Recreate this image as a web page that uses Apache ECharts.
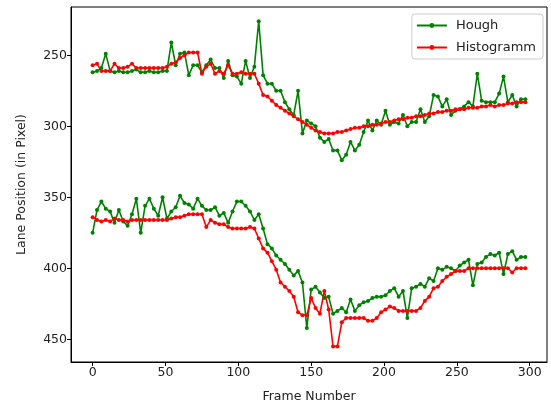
<!DOCTYPE html>
<html>
<head>
<meta charset="utf-8">
<script src="https://cdn.jsdelivr.net/npm/echarts@6/dist/echarts.min.js"></script>
<style>
  html, body { margin: 0; padding: 0; background: #fff; }
  #chart { width: 551px; height: 403px; }
</style>
</head>
<body>
<div id="chart"></div>
<script>
// frame numbers (every 3rd frame)
var frames = [0, 3, 6, 9, 12, 15, 18, 21, 24, 27, 30, 33, 36, 39, 42, 45, 48, 51, 54, 57,
    60, 63, 66, 69, 72, 75, 78, 81, 84, 87, 90, 93, 96, 99, 102, 105, 108, 111, 114, 117,
    120, 123, 126, 129, 132, 135, 138, 141, 144, 147, 150, 153, 156, 159, 162, 165, 168, 171, 174, 177,
    180, 183, 186, 189, 192, 195, 198, 201, 204, 207, 210, 213, 216, 219, 222, 225, 228, 231, 234, 237,
    240, 243, 246, 249, 252, 255, 258, 261, 264, 267, 270, 273, 276, 279, 282, 285, 288, 291, 294, 297];

var houghUpper = [262, 261, 259, 249, 261, 262, 261, 262, 262, 261,
    260, 262, 262, 261, 262, 262, 261, 261, 241, 257,
    249, 248, 264, 257, 257, 262, 257, 253, 259, 259,
    266, 254, 264, 265, 270, 254, 266, 258, 226, 264,
    270, 270, 275, 275, 283, 288, 292, 275, 305, 296,
    298, 300, 308, 311, 309, 317, 317, 324, 320, 311,
    317, 313, 304, 296, 303, 296, 299, 289, 299, 297,
    298, 292, 300, 297, 297, 288, 297, 293, 278, 279,
    286, 281, 292, 289, 288, 286, 283, 286, 263, 282,
    283, 283, 283, 277, 265, 283, 278, 286, 281, 281];

var houghLower = [375, 359, 353, 358, 360, 368, 359, 367, 370, 362,
    351, 375, 356, 351, 358, 363, 350, 365, 360, 357,
    349, 354, 355, 358, 351, 356, 359, 359, 357, 363,
    361, 368, 360, 353, 353, 356, 360, 366, 362, 372,
    383, 386, 391, 394, 397, 401, 405, 402, 410, 442,
    415, 413, 417, 421, 420, 432, 430, 428, 431, 422,
    430, 426, 424, 423, 421, 420, 420, 419, 416, 414,
    420, 416, 435, 414, 413, 411, 413, 407, 409, 400,
    401, 399, 400, 402, 398, 396, 394, 412, 397, 396,
    392, 390, 391, 389, 404, 390, 388, 394, 392, 392];

var histUpper = [257, 256, 261, 261, 261, 256, 259, 259, 258, 256,
    259, 259, 259, 259, 259, 259, 259, 258, 256, 255,
    252, 250, 248, 248, 248, 263, 258, 256, 263, 261,
    263, 257, 263, 263, 262, 263, 263, 263, 270, 278,
    279, 282, 285, 287, 289, 291, 293, 295, 297, 299,
    301, 303, 304, 305, 305, 305, 304, 304, 303, 302,
    301, 301, 300, 300, 299, 299, 298, 297, 297, 296,
    295, 295, 294, 294, 293, 293, 292, 291, 291, 290,
    290, 289, 289, 288, 288, 288, 287, 287, 287, 286,
    286, 285, 286, 285, 285, 284, 284, 283, 283, 283];

var histLower = [364, 366, 367, 366, 367, 365, 366, 366, 367, 366,
    366, 366, 366, 366, 366, 366, 366, 366, 365, 364,
    364, 363, 362, 362, 362, 362, 371, 366, 368, 369,
    369, 371, 372, 372, 372, 372, 371, 372, 379, 386,
    389, 395, 401, 410, 413, 416, 420, 431, 433, 433,
    421, 428, 432, 416, 429, 455, 455, 438, 435, 435,
    435, 435, 435, 437, 437, 435, 431, 429, 427, 428,
    430, 430, 430, 430, 430, 428, 423, 420, 414, 413,
    409, 406, 404, 402, 402, 402, 400, 400, 400, 400,
    400, 400, 400, 400, 400, 400, 403, 400, 400, 400];

var xTicks = [0, 50, 100, 150, 200, 250, 300];
var yTicks = [250, 300, 350, 400, 450];

function pairs(values) {
    return frames.map(function (f, i) { return [f, values[i]]; });
}

var font = 'DejaVu Sans';
var fontSize = 12.5;

function lineSeries(name, values, color) {
    return {
        name: name,
        type: 'line',
        data: pairs(values),
        symbol: 'circle',
        symbolSize: 4,
        color: color,
        lineStyle: { width: 1.6, color: color },
        itemStyle: { color: color },
        emphasis: { disabled: true }
    };
}

var chart = echarts.init(document.getElementById('chart'));
chart.setOption({
    animation: false,
    backgroundColor: '#fff',
    textStyle: { fontFamily: font },
    grid: {
        left: 71, right: 4, top: 7, bottom: 41,
        outerBoundsMode: 'none',
        show: true, borderColor: '#000', borderWidth: 1
    },
    legend: {
        data: ['Hough', 'Histogramm'],
        orient: 'vertical',
        align: 'left',
        right: 8,
        top: 14,
        itemWidth: 30,
        itemHeight: 6,
        itemGap: 9,
        padding: [5, 7, 5, 4],
        borderColor: '#ccc',
        borderWidth: 1,
        borderRadius: 3,
        backgroundColor: 'rgba(255,255,255,0.8)',
        textStyle: { fontFamily: font, fontSize: 13, color: '#222', padding: [0, 0, 0, 4] }
    },
    xAxis: {
        type: 'value',
        min: -14.85,
        max: 311.85,
        name: 'Frame Number',
        nameLocation: 'middle',
        nameGap: 28,
        nameTextStyle: { fontFamily: font, fontSize: fontSize, color: '#222' },
        axisLine: { onZero: false, lineStyle: { color: '#000', width: 1 } },
        axisTick: { customValues: xTicks, length: 4, lineStyle: { color: '#000' } },
        axisLabel: { customValues: xTicks, margin: 4, fontFamily: font, fontSize: fontSize, color: '#222' },
        splitLine: { show: false }
    },
    yAxis: {
        type: 'value',
        inverse: true,
        min: 216,
        max: 466,
        name: 'Lane Position (in Pixel)',
        nameLocation: 'middle',
        nameGap: 43,
        nameTextStyle: { fontFamily: font, fontSize: fontSize, color: '#222' },
        axisLine: { show: true, onZero: false, lineStyle: { color: '#000', width: 1 } },
        axisTick: { show: true, customValues: yTicks, length: 4, lineStyle: { color: '#000' } },
        axisLabel: { customValues: yTicks, margin: 4, fontFamily: font, fontSize: fontSize, color: '#222' },
        splitLine: { show: false }
    },
    series: [
        lineSeries('Hough', houghUpper, '#008000'),
        lineSeries('Hough', houghLower, '#008000'),
        lineSeries('Histogramm', histUpper, '#ff0000'),
        lineSeries('Histogramm', histLower, '#ff0000')
    ]
});
</script>
</body>
</html>
